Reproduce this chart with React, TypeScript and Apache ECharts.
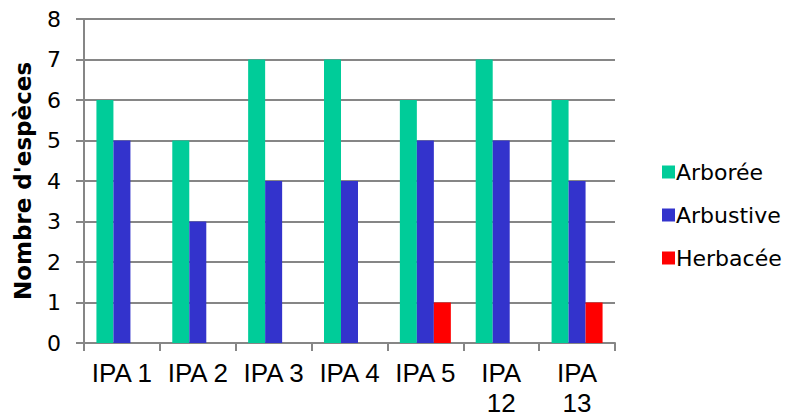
import React, { useEffect, useRef } from "react";
import * as echarts from "echarts";

const categories = ["IPA 1", "IPA 2", "IPA 3", "IPA 4", "IPA 5", "IPA 12", "IPA 13"];
const arboree = [6, 5, 7, 7, 6, 7, 6];
const arbustive = [5, 3, 4, 4, 5, 5, 4];
const herbacee = [0, 0, 0, 0, 1, 0, 1];
const yTicks = { min: 0, max: 8, interval: 1 };

export default function App() {
  const ref = useRef<HTMLDivElement>(null);
  useEffect(() => {
    const chart = echarts.init(ref.current!, null, { renderer: "svg" });
    const font = "'DejaVu Sans', sans-serif";
    const arial = "'Liberation Sans', Arial, sans-serif";
    chart.setOption({
      animation: false,
      textStyle: { fontFamily: font },
      grid: { left: 84, right: 177, top: 19, bottom: 74 },
      legend: {
        orient: "vertical",
        left: 657,
        top: 156,
        itemWidth: 13,
        itemHeight: 13,
        itemGap: 21,
        icon: "rect",
        textStyle: { fontSize: 22, color: "#000", fontFamily: font, padding: [0, 0, 0, -4] },
        data: ["Arborée", "Arbustive", "Herbacée"],
      },
      xAxis: {
        type: "category",
        data: categories,
        axisLine: { lineStyle: { color: "#868686", width: 2 } },
        axisTick: { show: true, length: 8, lineStyle: { color: "#868686", width: 2 } },
        axisLabel: {
          fontSize: 26,
          color: "#000",
          fontFamily: arial,
          margin: 15,
          lineHeight: 30,
          interval: 0,
          formatter: (v: string) => (v.length > 5 ? v.replace(" ", "\n") : v),
        },
      },
      yAxis: {
        type: "value",
        min: yTicks.min,
        max: yTicks.max,
        interval: yTicks.interval,
        name: "Nombre d'espèces",
        nameLocation: "middle",
        nameGap: 50,
        nameTextStyle: { fontSize: 23, fontWeight: "bold", color: "#000", fontFamily: font },
        axisLine: { show: true, lineStyle: { color: "#868686", width: 2 } },
        axisTick: { show: true, length: 8, lineStyle: { color: "#868686", width: 2 } },
        axisLabel: { fontSize: 22, color: "#000", fontFamily: font, margin: 23 },
        splitLine: { lineStyle: { color: "#868686", width: 2 } },
      },
      series: [
        { name: "Arborée", type: "bar", data: arboree, barWidth: 17, barGap: "0%", itemStyle: { color: "#00CC99" } },
        { name: "Arbustive", type: "bar", data: arbustive, barWidth: 17, barGap: "0%", itemStyle: { color: "#3333CC" } },
        { name: "Herbacée", type: "bar", data: herbacee, barWidth: 17, barGap: "0%", itemStyle: { color: "#FF0000" } },
      ],
    });
    return () => chart.dispose();
  }, []);
  return <div ref={ref} style={{ width: 792, height: 418, position: "absolute", left: 0, top: 0 }} />;
}
